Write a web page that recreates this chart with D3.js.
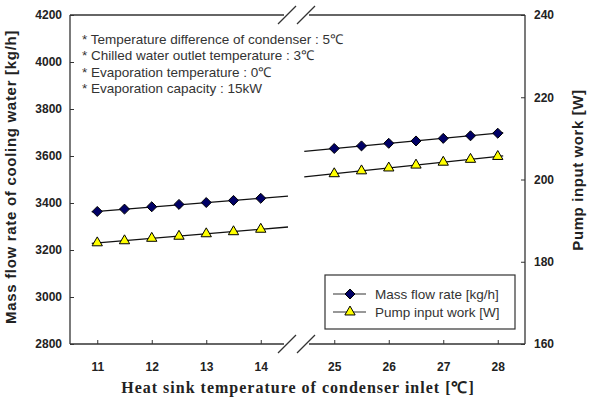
<!DOCTYPE html>
<html>
<head>
<meta charset="utf-8">
<script src="https://cdn.jsdelivr.net/npm/d3@7"></script>
<style>
  body { margin: 0; background: #fff; }
  text { font-family: Arial, "Liberation Sans", sans-serif; }
</style>
</head>
<body>
<div id="chart"></div>
<script>
// data
var tempsLow = [11, 11.5, 12, 12.5, 13, 13.5, 14];
var tempsHigh = [25, 25.5, 26, 26.5, 27, 27.5, 28];
var massLow = [3364, 3374, 3384, 3394, 3402, 3411, 3420];
var massHigh = [3632, 3643, 3654, 3664, 3675, 3686, 3697];
var pumpLow = [184.6, 185.1, 185.7, 186.2, 186.8, 187.3, 187.9];
var pumpHigh = [201.4, 202.1, 202.8, 203.5, 204.2, 204.9, 205.6];
var ticksLow = [11, 12, 13, 14];
var ticksHigh = [25, 26, 27, 28];
var massTicks = [2800, 3000, 3200, 3400, 3600, 3800, 4000, 4200];
var pumpTicks = [160, 180, 200, 220, 240];
var notes = [
  "* Temperature difference of condenser : 5\u2103",
  "* Chilled water outlet temperature : 3\u2103",
  "* Evaporation temperature : 0\u2103",
  "* Evaporation capacity : 15kW"
];
var seriesNames = ["Mass flow rate [kg/h]", "Pump input work [W]"];

var W = 590, H = 400;
var plotL = 70, plotR = 525, plotT = 15, plotB = 344;

var svg = d3.select("#chart").append("svg")
  .attr("width", W).attr("height", H);

// scales: broken x axis -> two pieces
var xLow = d3.scaleLinear().domain([10.5, 14.5]).range([plotL, 288]);
var xHigh = d3.scaleLinear().domain([24.5, 28.5]).range([307, plotR]);
var yMass = d3.scaleLinear().domain([2800, 4200]).range([plotB, plotT]);
var yPump = d3.scaleLinear().domain([160, 240]).range([plotB, plotT]);

var frame = svg.append("g").attr("stroke", "#333").attr("stroke-width", 1.3).attr("fill", "none");
frame.append("line").attr("x1", plotL).attr("x2", plotL).attr("y1", plotT).attr("y2", plotB);
frame.append("line").attr("x1", plotR).attr("x2", plotR).attr("y1", plotT).attr("y2", plotB);
[plotT, plotB].forEach(function(y) {
  frame.append("line").attr("x1", plotL).attr("x2", 284).attr("y1", y).attr("y2", y);
  frame.append("line").attr("x1", 309).attr("x2", plotR).attr("y1", y).attr("y2", y);
  // break slashes
  [0, 19].forEach(function(dx) {
    frame.append("line")
      .attr("x1", 278 + dx).attr("y1", y + 9)
      .attr("x2", 296 + dx).attr("y2", y - 9);
  });
});

// left axis
var gl = svg.append("g").attr("transform", "translate(" + plotL + ",0)")
  .call(d3.axisRight(yMass).tickValues(massTicks).tickSize(4).tickFormat(d3.format("d")));
gl.select(".domain").remove();
gl.selectAll("line").attr("stroke", "#333");
gl.selectAll("text").attr("x", -8).attr("text-anchor", "end")
  .style("font-size", "12px").style("font-weight", "bold").attr("fill", "#222");

// right axis
var gr = svg.append("g").attr("transform", "translate(" + plotR + ",0)")
  .call(d3.axisLeft(yPump).tickValues(pumpTicks).tickSize(4).tickFormat(d3.format("d")));
gr.select(".domain").remove();
gr.selectAll("line").attr("stroke", "#333");
gr.selectAll("text").attr("x", 9).attr("text-anchor", "start")
  .style("font-size", "12px").style("font-weight", "bold").attr("fill", "#222");

// bottom axes
[[xLow, ticksLow], [xHigh, ticksHigh]].forEach(function(p) {
  var g = svg.append("g").attr("transform", "translate(0," + plotB + ")")
    .call(d3.axisTop(p[0]).tickValues(p[1]).tickSize(4).tickFormat(d3.format("d")));
  g.select(".domain").remove();
  g.selectAll("line").attr("stroke", "#333");
  g.selectAll("text").attr("y", 18).attr("dy", "0.71em")
    .style("font-size", "12px").style("font-weight", "bold").attr("fill", "#222");
});

// axis titles
svg.append("text")
  .attr("transform", "translate(16,177) rotate(-90)")
  .attr("text-anchor", "middle")
  .style("font-size", "15px").style("font-weight", "bold")
  .style("letter-spacing", "0.7px").attr("fill", "#222")
  .text("Mass flow rate of cooling water [kg/h]");
svg.append("text")
  .attr("transform", "translate(583,170) rotate(-90)")
  .attr("text-anchor", "middle")
  .style("font-size", "15px").style("font-weight", "bold")
  .style("letter-spacing", "0.6px").attr("fill", "#222")
  .text("Pump input work [W]");
svg.append("text")
  .attr("x", 298).attr("y", 393)
  .attr("text-anchor", "middle")
  .style("font-family", "'Liberation Serif', 'Times New Roman', serif")
  .style("font-size", "16px").style("font-weight", "bold")
  .style("letter-spacing", "1px").attr("fill", "#222")
  .text("Heat sink temperature of condenser inlet [\u2103]");

// notes
svg.append("g").selectAll("text").data(notes).enter().append("text")
  .attr("x", 82).attr("y", function(d, i) { return 44 + i * 16.3; })
  .style("font-size", "13.5px").attr("fill", "#333")
  .text(function(d) { return d; });

// trend lines: straight line through end points, drawn a bit past them
function trend(xs, ys, x, y, from, to) {
  var n = xs.length - 1;
  var slope = (ys[n] - ys[0]) / (xs[n] - xs[0]);
  var f = function(t) { return ys[0] + slope * (t - xs[0]); };
  svg.append("line")
    .attr("x1", x(from)).attr("y1", y(f(from)))
    .attr("x2", x(to)).attr("y2", y(f(to)))
    .attr("stroke", "#111").attr("stroke-width", 1.3);
}
trend(tempsLow, massLow, xLow, yMass, 10.9, 14.5);
trend(tempsLow, pumpLow, xLow, yPump, 10.9, 14.5);
trend(tempsHigh, massHigh, xHigh, yMass, 24.45, 28.1);
trend(tempsHigh, pumpHigh, xHigh, yPump, 24.45, 28.1);

var diamond = d3.symbol().type(d3.symbolDiamond2).size(64);
var triangle = d3.symbol().type(d3.symbolTriangle).size(46);

function markers(xs, ys, x, y, sym, fill) {
  svg.append("g").selectAll("path").data(xs).enter().append("path")
    .attr("d", sym)
    .attr("transform", function(d, i) { return "translate(" + x(d) + "," + y(ys[i]) + ")"; })
    .attr("fill", fill).attr("stroke", "#000").attr("stroke-width", 1);
}
markers(tempsLow, massLow, xLow, yMass, diamond, "#000066");
markers(tempsHigh, massHigh, xHigh, yMass, diamond, "#000066");
markers(tempsLow, pumpLow, xLow, yPump, triangle, "#ffff00");
markers(tempsHigh, pumpHigh, xHigh, yPump, triangle, "#ffff00");

// legend
var lg = svg.append("g").attr("transform", "translate(325,275)");
lg.append("rect").attr("width", 190).attr("height", 54)
  .attr("fill", "#fff").attr("stroke", "#333").attr("stroke-width", 1.2);
[[diamond, "#000066"], [triangle, "#ffff00"]].forEach(function(s, i) {
  var yy = 19 + i * 18;
  lg.append("line").attr("x1", 8).attr("x2", 41).attr("y1", yy).attr("y2", yy)
    .attr("stroke", "#333").attr("stroke-width", 1.2);
  lg.append("path").attr("d", s[0]).attr("transform", "translate(25," + yy + ")")
    .attr("fill", s[1]).attr("stroke", "#000");
  lg.append("text").attr("x", 50).attr("y", yy).attr("dy", "0.35em")
    .style("font-size", "13.5px").attr("fill", "#333").text(seriesNames[i]);
});
</script>
</body>
</html>
